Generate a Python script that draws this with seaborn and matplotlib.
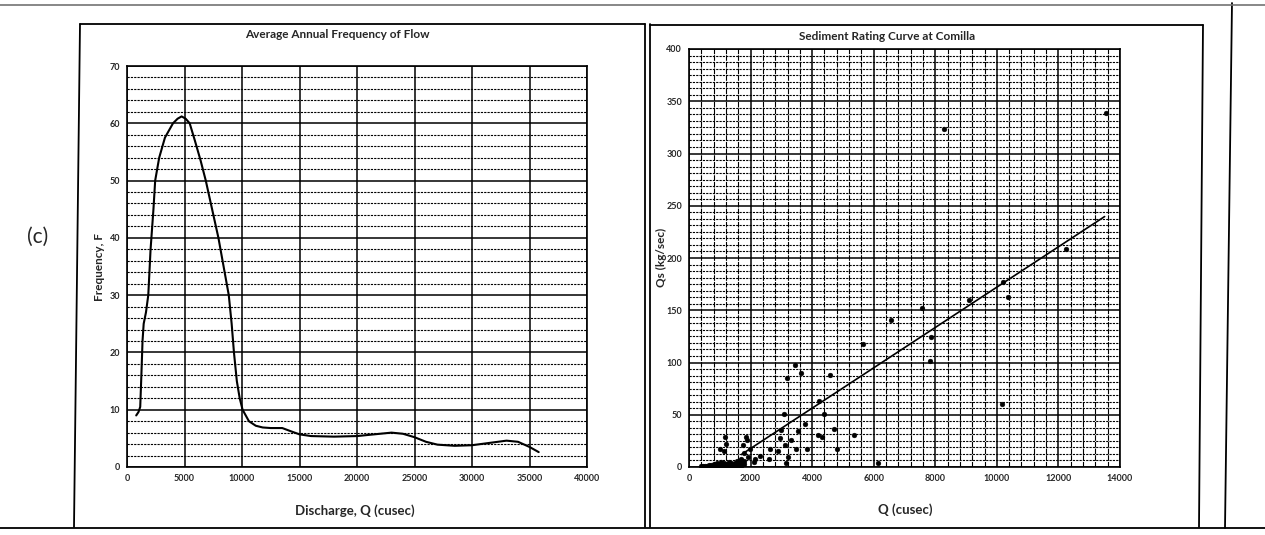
import numpy as np
import pandas as pd
import seaborn as sns
import matplotlib.pyplot as plt
from matplotlib.lines import Line2D
from matplotlib.ticker import MultipleLocator

# --- average annual frequency of flow ---
discharge = [800, 1000, 1150, 1250, 1350, 1450, 1650, 1850, 1950, 2050, 2300, 2450,
             2800, 3300, 4000, 4400, 4750, 5100, 5450, 5900, 6400, 6850, 7400, 7950,
             8400, 8850, 9100, 9300, 9550, 9800, 10050, 10600, 11200, 11800, 12500,
             13500, 14300, 15000, 16000, 18000, 20000, 21500, 23000, 24000, 25000,
             26000, 27000, 28500, 30000, 31500, 33000, 34000, 35000, 35800]
frequency = [9.0, 9.6, 10.5, 16, 22, 25, 27, 30, 34, 38, 45, 50,
             54, 57.5, 60, 60.8, 61.2, 60.8, 60, 57, 53.5, 50, 45, 40,
             35, 30, 25, 20, 15, 12, 10, 8, 7.2, 6.9, 6.8,
             6.8, 6.2, 5.7, 5.4, 5.3, 5.4, 5.7, 6.0, 5.8, 5.2,
             4.4, 3.9, 3.7, 3.8, 4.2, 4.6, 4.4, 3.5, 2.6]

# --- sediment samples at Comilla ---
q_obs = [400, 450, 520, 580, 650, 700, 760, 800, 850, 900, 950, 1000, 1050, 1100,
         1150, 1200, 1250, 1300, 1350, 1400, 1450, 1500, 1550, 1600, 1650, 1700,
         1750, 1800, 780, 880, 980, 1080, 1180, 1280, 1380, 1480, 1580, 1680, 1780,
         10206, 10346, 9090, 7584, 6555, 7855, 5655, 7822, 10173, 3445, 3630, 3196,
         4572, 4225, 3088, 4377, 3760, 3543, 3326, 4193, 4334, 4702, 5352, 3001,
         2947, 3110, 2893, 3489, 3835, 4821, 3218, 3164, 6143, 2622, 2590, 2297,
         2134, 2102, 1918, 1863, 1885, 1755, 1972, 1159, 1192, 997, 1138, 1788,
         1701, 8290, 13560, 12240]
qs_obs = [0.5, 1, 0.5, 1, 1.5, 2, 1, 3, 2, 4, 3, 2, 5, 3,
          4, 2, 3, 5, 4, 3, 2, 4, 6, 3, 5, 7,
          4, 6, 0, 1, 1, 0, 1, 2, 0, 1, 2, 1, 3,
          177, 163, 160, 152, 141, 124, 118, 101, 60, 98, 90, 85,
          88, 63, 51, 51, 41, 34, 26, 31, 29, 36, 31, 35,
          28, 21, 15, 17, 17, 17, 10, 4, 4, 17, 8, 11,
          8, 5, 10, 29, 26, 21, 17, 29, 22, 17, 15, 13,
          8, 323, 339, 209]

# linear rating line Qs = a*Q + b, drawn over its fitted range
trend_slope = 0.0193
trend_icpt = -20.9
trend_q = [1700, 13500]

sns.set_style("white")
plt.rcParams['font.family'] = ['Lato', 'DejaVu Sans']

fig = plt.figure(figsize=(12.65, 5.35), dpi=100)
W, H = 1265, 535


def px_axes(x0, y0, x1, y1):
    return fig.add_axes([x0 / W, 1 - y1 / H, (x1 - x0) / W, (y1 - y0) / H])


def graph_paper(ax, maj_x, min_x, maj_y, min_y):
    ax.xaxis.set_major_locator(MultipleLocator(maj_x))
    ax.yaxis.set_major_locator(MultipleLocator(maj_y))
    if min_x:
        ax.xaxis.set_minor_locator(MultipleLocator(min_x))
        ax.grid(True, which='minor', axis='x', color='black', lw=0.8, ls=(0, (5, 1)))
    ax.yaxis.set_minor_locator(MultipleLocator(min_y))
    ax.grid(True, which='minor', axis='y', color='black', lw=0.8, ls=(0, (2, 1)))
    ax.grid(True, which='major', color='black', lw=1.1)
    ax.tick_params(which='minor', length=0)
    ax.tick_params(which='major', length=2, width=0.8, color='black',
                   labelsize=6.5, pad=3)
    for lab in ax.get_xticklabels() + ax.get_yticklabels():
        lab.set_fontweight('bold')
    for s in ax.spines.values():
        s.set_color('black')
        s.set_linewidth(1.2)
    ax.set_axisbelow(True)


# left panel
ax1 = px_axes(127, 66, 587, 467)
flow = pd.DataFrame({'Q': discharge, 'F': frequency})
sns.lineplot(data=flow, x='Q', y='F', ax=ax1, color='black', lw=1.5,
             sort=False, estimator=None)
ax1.set_xlim(0, 40000)
ax1.set_ylim(0, 70)
graph_paper(ax1, 5000, None, 10, 2)
ax1.set_xlabel('')
ax1.set_ylabel('')

# right panel
ax2 = px_axes(689, 49, 1120, 467)
sed = pd.DataFrame({'Q': q_obs, 'Qs': qs_obs})
sns.scatterplot(data=sed, x='Q', y='Qs', ax=ax2, color='black', s=12,
                edgecolor='black', linewidth=0.3, zorder=3)
trend = pd.DataFrame({'Q': trend_q,
                      'Qs': [trend_slope * q + trend_icpt for q in trend_q]})
sns.lineplot(data=trend, x='Q', y='Qs', ax=ax2, color='black', lw=1.2,
             estimator=None)
ax2.set_xlim(0, 14000)
ax2.set_ylim(0, 400)
graph_paper(ax2, 2000, 400, 50, 6.25)
ax2.set_xlabel('')
ax2.set_ylabel('')

# titles and labels placed in pixel positions
def ftext(x, y, s, **kw):
    fig.text(x / W, 1 - y / H, s, ha='center', va='center', **kw)


ftext(337, 34, 'Average Annual Frequency of Flow', fontsize=8.5, fontweight='bold')
ftext(355, 511, 'Discharge, Q (cusec)', fontsize=9.5, fontweight='bold')
ftext(99, 267, 'Frequency, F', fontsize=8.5, fontweight='bold', rotation=90)
ftext(887, 37, 'Sediment Rating Curve at Comilla', fontsize=8.5, fontweight='bold')
ftext(905, 510, 'Q (cusec)', fontsize=9.5, fontweight='bold')
ftext(661, 257, 'Qs (kg/sec)', fontsize=8.5, fontweight='bold', rotation=90)
ftext(38, 237, '(c)', fontsize=15)

# scanned page frames
frames = [
    ([80, 645], [24, 24]), ([80, 74], [24, 527]), ([645, 645], [24, 527]),
    ([650, 650], [24, 527]), ([650, 1203], [25, 25]), ([1203, 1199], [25, 527]),
    ([1232, 1225], [3, 528]), ([0, 1265], [528, 528]),
]
for xs, ys in frames:
    fig.add_artist(Line2D([x / W for x in xs], [1 - y / H for y in ys],
                          color='black', lw=1.3))
fig.add_artist(Line2D([0, 1], [1 - 5 / H, 1 - 5 / H], color='0.45', lw=1.2))

plt.savefig("out.png", dpi=100)
